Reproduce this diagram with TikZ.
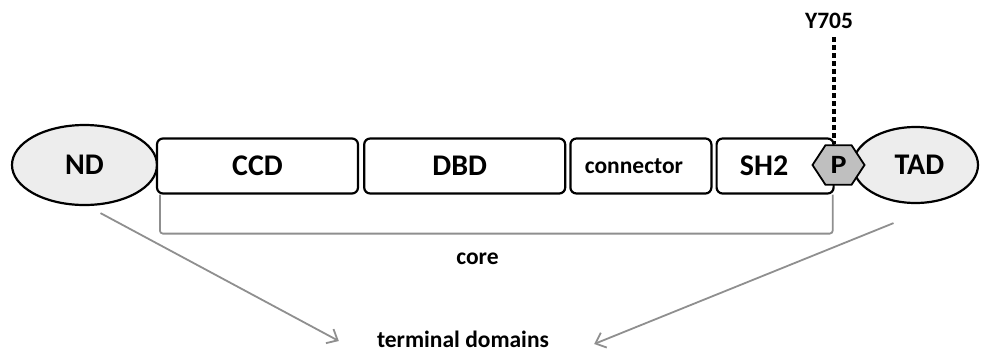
\documentclass[tikz,border=0pt]{standalone}
\usepackage{fontspec}
\setmainfont{Carlito}
\usepackage{tikz}
\usetikzlibrary{positioning,shapes,arrows.meta,calc}
\definecolor{lightgrey}{rgb}{0.93,0.93,0.93}
\definecolor{midgrey}{rgb}{0.56,0.56,0.56}
\definecolor{pgrey}{rgb}{0.75,0.75,0.75}
\tikzstyle{bb}=[%
      rectangle, draw=black, line width=2.2pt, fill=white, rounded corners=6pt,
      minimum height=55pt, inner sep=0pt, font=\fontsize{30}{34}\selectfont\bfseries
]
\tikzstyle{el}=[%
      ellipse, draw=black, line width=2.2pt, fill=lightgrey, inner sep=0pt,
      font=\fontsize{30}{34}\selectfont\bfseries
]
\tikzstyle{ph}=[%
      regular polygon, regular polygon sides=6, draw=black, line width=1.8pt, fill=pgrey,
      minimum size=52pt, inner sep=0pt, font=\fontsize{30}{34}\selectfont\bfseries
]
\tikzstyle{lb}=[%
      inner sep=0pt, anchor=base, font=\fontsize{23.5}{27}\selectfont\bfseries
]

\begin{document}
\begin{tikzpicture}[x=1pt, y=-1pt,
    >={Straight Barb[length=9pt, width=16pt]},
    brk/.style={draw=midgrey, line width=1.8pt, rounded corners=3pt},
    ar/.style={->, draw=midgrey, line width=1.8pt},
    dt/.style={draw=black, line width=4.5pt, dash pattern=on 4.5pt off 3.5pt},
]
    \useasboundingbox (0,0) rectangle (981,351);

    \node[el, minimum width=145pt, minimum height=80pt] (0) at (84.5,165) {ND};
    \node[bb, minimum width=201pt] (1) at (257.5,166)  {CCD};
    \node[bb, minimum width=201pt] (2) [right = 4pt of 1] {DBD\hspace*{10pt}};
    \node[bb, minimum width=141pt, font=\fontsize{23.5}{27}\selectfont\bfseries]
                                   (3) [right = 3pt of 2] {connector\hspace*{14pt}};
    \node[bb, minimum width=117pt] (4) [right = 3pt of 3] {SH2\hspace*{22pt}};
    \node[el, minimum width=125pt, minimum height=76pt] (6) at (915.5,165) {\hspace*{8pt}TAD};
    \node[ph, yscale=0.88]         (5) at (838.5,165) {P};

    \node[lb] (7) at (829,28)   {Y705};
    \node[lb] (8) at (477.5,264) {core};
    \node[lb] (9) at (463,347)  {terminal domains};

    \coordinate (top) at (834,37);
    \draw[dt] (top) -- (top |- 5.north);

    % core bracket
    \draw[brk] ([xshift=4pt]1.south west) -- ++(0,39) -| ([xshift=-2pt]4.south east);

    % terminal domains
    \draw[ar] ([shift={(16,7)}]0.south) -- ([shift={(-38,-6)}]9.base west);
    \draw[ar] ([shift={(-22,19)}]6.south) -- ([shift={(45,-3)}]9.base east);
\end{tikzpicture}
\end{document}
